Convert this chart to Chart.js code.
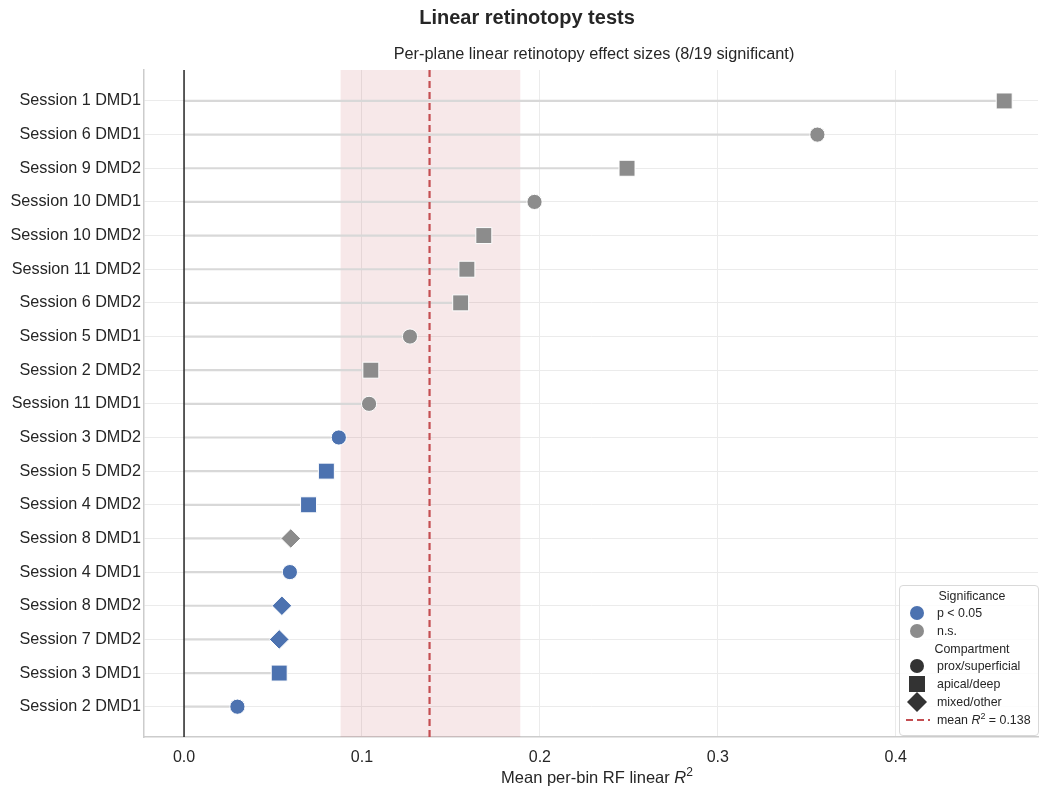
<!DOCTYPE html>
<html><head><meta charset="utf-8">
<script src="https://cdn.jsdelivr.net/npm/chart.js@4.4.0/dist/chart.umd.min.js"></script>
<style>
body{margin:0;background:#fff;font-family:"Liberation Sans",Arial,sans-serif;}
#wrap{position:relative;width:1040px;height:789px;}
#legend{position:absolute;left:899px;top:585px;width:140px;height:151px;border:1px solid #d9d9d9;border-radius:4px;background:rgba(255,255,255,0.85);font-size:12.4px;color:#262626;box-sizing:border-box;}
.row{position:absolute;left:0;height:16px;line-height:16px;white-space:nowrap;}
.hdr{width:100%;text-align:center;padding-left:6px;box-sizing:border-box;}
.row svg{position:absolute;left:6px;top:0;}
.row span{position:absolute;left:37px;}
#xtitle{position:absolute;left:150px;width:894px;top:768px;text-align:center;font-size:16.5px;color:#262626;}
</style></head>
<body>
<div id="wrap">
<canvas id="c" width="1040" height="789"></canvas>
<div id="legend">
  <div class="row hdr" style="top:2px">Significance</div>
  <div class="row" style="top:19px"><svg width="24" height="16"><circle cx="11" cy="8" r="7" fill="#4c72b0"/></svg><span>p &lt; 0.05</span></div>
  <div class="row" style="top:37px"><svg width="24" height="16"><circle cx="11" cy="8" r="7" fill="#8c8c8c"/></svg><span>n.s.</span></div>
  <div class="row hdr" style="top:55px">Compartment</div>
  <div class="row" style="top:72px"><svg width="24" height="16"><circle cx="11" cy="8" r="7" fill="#333"/></svg><span>prox/superficial</span></div>
  <div class="row" style="top:90px"><svg width="24" height="16"><rect x="3" y="0" width="16" height="16" fill="#333"/></svg><span>apical/deep</span></div>
  <div class="row" style="top:108px"><svg width="24" height="20" style="top:-2px"><polygon points="11,0 21,10 11,20 1,10" fill="#333"/></svg><span>mixed/other</span></div>
  <div class="row" style="top:126px"><svg width="26" height="16"><line x1="0" y1="8" x2="24" y2="8" stroke="#c44e52" stroke-width="2" stroke-dasharray="7,4"/></svg><span>mean <i>R</i><sup style="font-size:9px;vertical-align:5px;line-height:0">2</sup> = 0.138</span></div>
</div>
<div id="xtitle">Mean per-bin RF linear <i>R</i><sup style="font-size:12px;vertical-align:7px;line-height:0">2</sup></div>
</div>
<script>
const labels = ['Session 1 DMD1','Session 6 DMD1','Session 9 DMD2','Session 10 DMD1','Session 10 DMD2','Session 11 DMD2','Session 6 DMD2','Session 5 DMD1','Session 2 DMD2','Session 11 DMD1','Session 3 DMD2','Session 5 DMD2','Session 4 DMD2','Session 8 DMD1','Session 4 DMD1','Session 8 DMD2','Session 7 DMD2','Session 3 DMD1','Session 2 DMD1'];
const r2Values = [0.461,0.356,0.249,0.197,0.1685,0.159,0.1555,0.127,0.105,0.104,0.087,0.080,0.070,0.060,0.0595,0.055,0.0535,0.0535,0.030];
const significant = [false,false,false,false,false,false,false,false,false,false,true,true,true,false,true,true,true,true,true];
const compartment = ['apical','prox','apical','prox','apical','apical','apical','prox','apical','prox','prox','apical','apical','mixed','prox','mixed','mixed','apical','prox'];
const xTicks = [0.0,0.1,0.2,0.3,0.4];
const meanR2 = 0.138;
const bandLow = 0.088, bandHigh = 0.189;

const BLUE = '#4c72b0', GRAY = '#8c8c8c', RED = '#c44e52';
const styleMap = {prox:'circle', apical:'rect', mixed:'rectRot'};
const radiusMap = {prox:7.6, apical:11.3, mixed:9.8};
const yMin = -0.92, yMax = 18.9;
const FONT = '"Liberation Sans", Arial, sans-serif';

const stemSets = labels.map((l,i)=>({
  type:'scatter', showLine:true, data:[{x:0,y:i},{x:r2Values[i],y:i}],
  borderColor:'#d8d8d8', borderWidth:2.2, pointRadius:0, order:3
}));

const datasets = [
  ...stemSets,
  {type:'scatter', showLine:true, data:[{x:0,y:yMin},{x:0,y:yMax}], borderColor:'#1a1a1a', borderWidth:1.4, pointRadius:0, order:2},
  {type:'scatter', showLine:true, data:[{x:meanR2,y:yMin},{x:meanR2,y:yMax}], borderColor:RED, borderWidth:2.2, borderDash:[7,4], pointRadius:0, order:1},
  {type:'scatter', data:r2Values.map((v,i)=>({x:v,y:i})),
   pointStyle:compartment.map(c=>styleMap[c]),
   pointRadius:compartment.map(c=>radiusMap[c]),
   backgroundColor:significant.map(s=>s?BLUE:GRAY),
   borderColor:'#ffffff', borderWidth:1, order:0}
];

const bandPlugin = {
  id:'band',
  beforeDatasetsDraw(chart){
    const {ctx, chartArea, scales} = chart;
    const x1 = scales.x.getPixelForValue(bandLow), x2 = scales.x.getPixelForValue(bandHigh);
    ctx.save();
    ctx.fillStyle = 'rgba(196,78,82,0.13)';
    ctx.fillRect(x1, chartArea.top, x2-x1, chartArea.bottom-chartArea.top);
    ctx.restore();
  },
  afterDraw(chart){
    const {ctx, chartArea} = chart;
    ctx.save();
    ctx.fillStyle = '#262626';
    ctx.textAlign = 'center'; ctx.textBaseline = 'middle';
    ctx.font = 'bold 20px ' + FONT;
    ctx.fillText('Linear retinotopy tests', 527, 18);
    ctx.font = '16.3px ' + FONT;
    ctx.fillText('Per-plane linear retinotopy effect sizes (8/19 significant)', (chartArea.left+chartArea.right)/2 + 3, 55);
    ctx.restore();
  }
};

new Chart(document.getElementById('c'), {
  type:'scatter',
  data:{datasets},
  plugins:[bandPlugin],
  options:{
    responsive:false, animation:false,
    layout:{autoPadding:false, padding:{left:0,right:2,top:70,bottom:0}},
    plugins:{legend:{display:false}, tooltip:{enabled:false}},
    scales:{
      x:{type:'linear', min:-0.0225, max:0.48,
        afterBuildTicks(s){ s.ticks = xTicks.map(v=>({value:v})); },
        afterFit(s){ s.height = 52; },
        ticks:{callback:v=>Number(v).toFixed(1), color:'#262626', font:{size:16, family:FONT}, padding:11, maxRotation:0},
        grid:{color:'#ebebeb', lineWidth:1, drawTicks:false},
        border:{color:'#cccccc', width:1.5}
      },
      y:{type:'linear', reverse:true, min:yMin, max:yMax,
        afterBuildTicks(s){ s.ticks = labels.map((l,i)=>({value:i})); },
        afterFit(s){ s.width = 144; },
        ticks:{callback:(v)=>labels[v] ?? '', color:'#262626', font:{size:16.2, family:FONT}, padding:3, autoSkip:false},
        grid:{color:'#ebebeb', lineWidth:1, drawTicks:false},
        border:{color:'#cccccc', width:1.5}
      }
    }
  }
});
</script>
</body></html>
